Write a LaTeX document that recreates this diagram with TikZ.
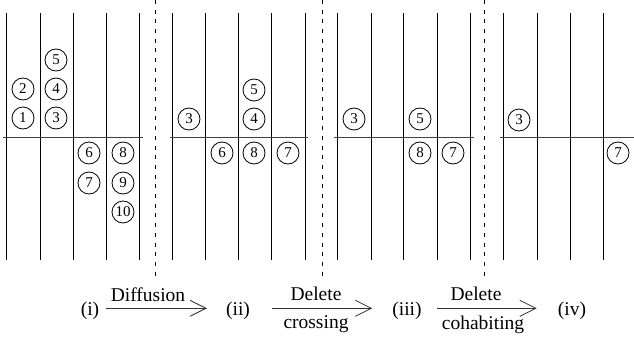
\documentclass[tikz,border=0pt]{standalone}
\usepackage{fontspec}
\setmainfont{Liberation Serif}
\usetikzlibrary{arrows.meta}
\begin{document}
\begin{tikzpicture}[x=1pt,y=-1pt,
  lane/.style={line width=0.9pt},
  axis/.style={line width=1pt, black!75},
  sep/.style={line width=0.9pt, dash pattern=on 4pt off 5.7pt},
  tok/.style={circle, draw, line width=0.8pt, minimum size=22pt, inner sep=0pt, font=\fontsize{15}{15}\selectfont},
  lbl/.style={inner sep=0pt, anchor=base, font=\fontsize{19.5}{20}\selectfont},
  flow/.style={line width=0.8pt, black!80, -{Straight Barb[length=16pt,width=16pt,line width=0.8pt]}}
]
\useasboundingbox (0,0) rectangle (634,337);
% lanes
\foreach \x in {6,40,73,106,139,172,205,238,271,305,337,371,403,437,470,503,537,570,603}
  \draw[lane] (\x,13) -- (\x,260);
% axes
\draw[axis] (3,137) -- (143,137);
\draw[axis] (170,137) -- (308,137);
\draw[axis] (334,137) -- (474,137);
\draw[axis] (500,137) -- (634,137);
% separators
\foreach \x in {155,322,484}
  \draw[sep] (\x,0) -- (\x,277);
% panel (i)
\node[tok] (p1n1) at (23,118) {1};
\node[tok] (p1n2) at (23,89) {2};
\node[tok] (p1n3) at (56,118) {3};
\node[tok] (p1n4) at (56,89) {4};
\node[tok] (p1n5) at (56,60) {5};
\node[tok] (p1n6) at (89,153) {6};
\node[tok] (p1n7) at (89,183) {7};
\node[tok] (p1n8) at (123,153) {8};
\node[tok] (p1n9) at (123,183) {9};
\node[tok] (p1n10) at (123,212) {10};
% panel (ii)
\node[tok] (p2n3) at (189,119) {3};
\node[tok] (p2n5) at (254,90) {5};
\node[tok] (p2n4) at (254,119) {4};
\node[tok] (p2n6) at (222,153) {6};
\node[tok] (p2n8) at (254,153) {8};
\node[tok] (p2n7) at (288,153) {7};
% panel (iii)
\node[tok] (p3n3) at (354,119) {3};
\node[tok] (p3n5) at (420,119) {5};
\node[tok] (p3n8) at (420,153) {8};
\node[tok] (p3n7) at (453,153) {7};
% panel (iv)
\node[tok] (p4n3) at (519,120) {3};
\node[tok] (p4n7) at (618,153) {7};
% bottom labels
\node[lbl] (i) at (90,315) {(i)};
\node[lbl] (ii) at (238,315) {(ii)};
\node[lbl] (iii) at (407,315) {(iii)};
\node[lbl] (iv) at (572,315) {(iv)};
\node[lbl] (t1) at (148,301) {Diffusion};
\node[lbl] (t2) at (316,300) {Delete};
\node[lbl] (b2) at (316,328) {crossing};
\node[lbl] (t3) at (476,300) {Delete};
\node[lbl] (b3) at (483,329) {cohabiting};
% arrows
\draw[flow] ([xshift=7pt,yshift=2pt]i.east) -- ([xshift=-19pt,yshift=2pt]ii.west);
\draw[flow] ([xshift=22pt,yshift=2pt]ii.east) -- ([xshift=-20pt,yshift=2pt]iii.west);
\draw[flow] ([xshift=15pt,yshift=2pt]iii.east) -- ([xshift=-21pt,yshift=2pt]iv.west);
\end{tikzpicture}
\end{document}
